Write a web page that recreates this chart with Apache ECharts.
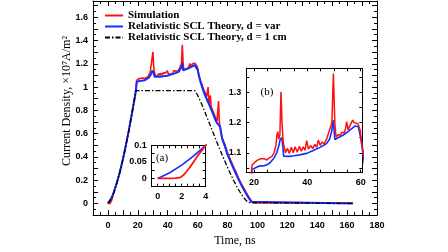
<!DOCTYPE html>
<html>
<head>
<meta charset="utf-8">
<script src="https://cdn.jsdelivr.net/npm/echarts@6/dist/echarts.min.js"></script>
<style>html,body{margin:0;padding:0;background:#fff}#c{width:448px;height:252px}</style>
</head>
<body>
<div id="c"></div>
<script>
// ---- Data ----
const seriesNames = ['Simulation', 'Relativistic SCL Theory, d = var', 'Relativistic SCL Theory, d = 1 cm'];

const simTime = [0,0.5,1,1.5,1.9,2.2,2.6,3,3.4,3.7,4,6,8,10,12,14,16,18,18.7,19.2,20,21,22.25,23,24,24.8,25.7,26.7,27.5,28.25,28.6,28.9,29.3,29.7,30.1,30.5,30.9,31.25,31.8,32.5,33.2,34,34.7,35.4,36.2,37,37.7,38.4,39.1,39.75,40.4,41.2,42,42.8,43.5,44.1,44.8,45.5,46.3,47.2,47.9,48.6,49.2,49.75,50.3,50.75,51.5,52.3,53,53.8,54.3,54.75,55.3,56,56.5,57,57.5,58.2,59,59.8,60.4,61,62,63,64,65,66,66.6,67,67.4,68,68.5,69,70,71,72,73,73.6,74,74.5,75,75.6,76.2,78,80,82,84,86,88,90,92,94,96,97.5,164];
const simDensity = [0,0,0,0.001,0.003,0.012,0.03,0.05,0.072,0.085,0.1,0.18,0.275,0.38,0.5,0.63,0.77,0.915,0.975,1.058,1.066,1.074,1.08,1.077,1.08,1.076,1.083,1.088,1.1,1.126,1.16,1.17,1.145,1.16,1.302,1.2,1.14,1.12,1.1,1.115,1.098,1.118,1.1,1.12,1.102,1.122,1.105,1.12,1.108,1.14,1.112,1.124,1.114,1.128,1.118,1.142,1.125,1.135,1.13,1.145,1.164,1.17,1.2,1.363,1.2,1.152,1.16,1.158,1.168,1.165,1.18,1.203,1.175,1.19,1.2,1.208,1.2,1.205,1.196,1.175,1.132,1.1,1.055,1.02,0.98,0.95,0.92,0.91,1.0,0.89,0.86,0.93,0.835,0.8,0.77,0.735,0.71,0.72,0.88,0.7,0.685,0.62,0.57,0.515,0.435,0.375,0.315,0.26,0.2,0.15,0.105,0.06,0.02,0.004,0.004];

const varTime = [0,1,2,3,4,6,8,10,12,14,16,18,18.7,19.3,20,21,22.25,23.5,25,26,27.5,28.5,29.2,29.75,30.4,30.8,31.1,33,35,37,39.75,42,44.75,46,47.25,48.3,49.1,49.7,50.3,51.5,53.5,55.5,57.9,59.1,60,61,62,64,66,68,70,72,73,74,75,75.8,76.5,78,80,82,84,86,88,90,92,94,96,97,164];
const varDensity = [0,0.017,0.04,0.068,0.1,0.18,0.27,0.38,0.5,0.63,0.77,0.915,0.97,1.045,1.048,1.052,1.057,1.056,1.061,1.067,1.083,1.1,1.12,1.142,1.151,1.12,1.089,1.088,1.09,1.093,1.098,1.107,1.118,1.124,1.131,1.145,1.17,1.208,1.144,1.15,1.159,1.172,1.189,1.186,1.15,1.087,1.04,0.96,0.9,0.84,0.78,0.715,0.69,0.675,0.66,0.6,0.55,0.5,0.42,0.36,0.3,0.245,0.19,0.14,0.095,0.05,0.014,0,0];

const fixedTime = [0,1,2,3,4,6,8,10,12,14,16,18,18.7,58.2,60,62,64,66,68,70,72,74,76,78,80,82,84,86,88,90,92,94,95,164];
const fixedDensity = [0,0.012,0.034,0.062,0.096,0.176,0.271,0.379,0.499,0.628,0.768,0.916,0.97,0.97,0.93,0.875,0.815,0.75,0.685,0.62,0.555,0.49,0.43,0.37,0.31,0.255,0.2,0.15,0.105,0.065,0.032,0.008,0,0];

// axis tick values
const mainXLabels = [0,20,40,60,80,100,120,140,160,180];
const mainYLabels = [0,0.2,0.4,0.6,0.8,1,1.2,1.4,1.6];
const insetALabelsX = [0,2,4];
const insetALabelsY = [0,0.05,0.1];
const insetBTicksX = [20,25,30,35,40,45,50,55,60];
const insetBLabelsX = [20,40,60];
const insetBTicksY = [1.05,1.1,1.15,1.2,1.25,1.3,1.35];
const insetBLabelsY = [1.1,1.2,1.3];

// ---- build ----
const zip = (t, v) => t.map((x, i) => [x, v[i]]);
const simData = zip(simTime, simDensity);
const varData = zip(varTime, varDensity);
const fixedData = zip(fixedTime, fixedDensity);

const RED = '#ff1010', BLUE = '#1030ff';
const labelFont = {fontFamily: 'Liberation Sans', fontWeight: 'bold', fontSize: 9, color: '#000'};
const near = (v, arr) => arr.some(a => Math.abs(a - v) < 1e-6);

function axisCommon(extra) {
  return Object.assign({
    type: 'value',
    axisLine: {show: true, onZero: false, lineStyle: {color: '#000', width: 1}},
    axisTick: {show: true, inside: true, length: 5, lineStyle: {color: '#000', width: 1}},
    splitLine: {show: false},
  }, extra);
}
const smallTick = {show: true, inside: true, length: 3, lineStyle: {color: '#000'}};

const xAxes = [
  // 0: main bottom
  axisCommon({gridIndex: 0, position: 'bottom', min: -10, max: 180, interval: 10,
    minorTick: {show: true, splitNumber: 2, length: 3, lineStyle: {color: '#000'}},
    axisLabel: Object.assign({margin: 6, formatter: v => near(v, mainXLabels) ? String(Math.round(v)) : ''}, labelFont),
    name: 'Time, ns', nameLocation: 'middle', nameGap: 16,
    nameTextStyle: {fontFamily: 'Liberation Serif', fontSize: 12, color: '#000'}}),
  // 1: main top
  axisCommon({gridIndex: 0, position: 'top', min: -10, max: 180, interval: 10,
    minorTick: {show: true, splitNumber: 2, length: 3, lineStyle: {color: '#000'}},
    axisLabel: {show: false}}),
  // 2: inset a bottom
  axisCommon({gridIndex: 1, position: 'bottom', min: -0.5, max: 4, interval: 0.5,
    axisTick: smallTick,
    axisLabel: Object.assign({margin: 5, formatter: v => near(v, insetALabelsX) ? String(Math.round(v)) : ''}, labelFont)}),
  // 3: inset a top
  axisCommon({gridIndex: 1, position: 'top', min: -0.5, max: 4, interval: 0.5,
    axisTick: smallTick, axisLabel: {show: false}}),
  // 4: inset b bottom
  axisCommon({gridIndex: 2, position: 'bottom', min: 17.1, max: 60.6,
    axisTick: Object.assign({customValues: insetBTicksX}, smallTick),
    axisLabel: Object.assign({margin: 5, customValues: insetBLabelsX}, labelFont)}),
  // 5: inset b top
  axisCommon({gridIndex: 2, position: 'top', min: 17.1, max: 60.6,
    axisTick: Object.assign({customValues: insetBTicksX}, smallTick),
    axisLabel: {show: false}}),
];

const yAxes = [
  axisCommon({gridIndex: 0, position: 'left', min: -0.1, max: 1.74, interval: 0.1,
    minorTick: {show: true, splitNumber: 2, length: 3, lineStyle: {color: '#000'}},
    axisLabel: Object.assign({margin: 5, formatter: v => near(v, mainYLabels) ? String(Math.round(v * 10) / 10) : ''}, labelFont)}),
  axisCommon({gridIndex: 0, position: 'right', min: -0.1, max: 1.74, interval: 0.1,
    minorTick: {show: true, splitNumber: 2, length: 3, lineStyle: {color: '#000'}},
    axisLabel: {show: false}}),
  axisCommon({gridIndex: 1, position: 'left', min: -0.025, max: 0.1, interval: 0.025,
    axisTick: smallTick,
    axisLabel: Object.assign({margin: 5, formatter: v => near(v, insetALabelsY) ? String(Math.round(v * 100) / 100) : ''}, labelFont)}),
  axisCommon({gridIndex: 1, position: 'right', min: -0.025, max: 0.1, interval: 0.025,
    axisTick: smallTick, axisLabel: {show: false}}),
  axisCommon({gridIndex: 2, position: 'left', min: 1.034, max: 1.38,
    axisTick: Object.assign({customValues: insetBTicksY}, smallTick),
    axisLabel: Object.assign({margin: 5, customValues: insetBLabelsY, formatter: v => v.toFixed(1)}, labelFont)}),
  axisCommon({gridIndex: 2, position: 'right', min: 1.034, max: 1.38,
    axisTick: Object.assign({customValues: insetBTicksY}, smallTick),
    axisLabel: {show: false}}),
];

function line(name, data, color, width, xi, yi, type, z) {
  return {
    type: 'line', name, data, xAxisIndex: xi, yAxisIndex: yi,
    symbol: 'none', showSymbol: false, clip: true, z: z || 2,
    lineStyle: {color, width, type: type || 'solid'}, itemStyle: {color},
    emphasis: {disabled: true}
  };
}

const chart = echarts.init(document.getElementById('c'), null, {renderer: 'canvas'});
chart.setOption({
  animation: false,
  backgroundColor: '#fff',
  grid: [
    {left: 93, top: 1, width: 284, height: 223.5, show: false},
    {left: 151.7, top: 145.3, width: 54, height: 41.4, show: true, backgroundColor: '#fff', borderWidth: 0},
    {left: 246.3, top: 68.3, width: 116, height: 104.4, show: true, backgroundColor: '#fff', borderWidth: 0},
  ],
  xAxis: xAxes,
  yAxis: yAxes,
  legend: {
    data: seriesNames, orient: 'vertical', left: 99, top: 5,
    itemWidth: 18, itemHeight: 10, itemGap: 0,
    itemStyle: {opacity: 0},
    textStyle: {fontFamily: 'Liberation Serif', fontWeight: 'bold', fontSize: 11, color: '#000'},
    selectedMode: false
  },
  graphic: [
    {type: 'text', x: 67, y: 101, rotation: Math.PI / 2,
      style: {text: 'Current Density, ×10⁷A/m²', font: '12px "Liberation Serif"', fill: '#000', align: 'center', verticalAlign: 'middle'}},
    {type: 'text', x: 162, y: 158, style: {text: '(a)', font: '11px "Liberation Serif"', fill: '#000', align: 'center', verticalAlign: 'middle'}, z: 10},
    {type: 'text', x: 267, y: 92, style: {text: '(b)', font: '11px "Liberation Serif"', fill: '#000', align: 'center', verticalAlign: 'middle'}, z: 10},
  ],
  series: [
    line(seriesNames[0], simData, RED, 1.6, 0, 0),
    line(seriesNames[1], varData, BLUE, 2, 0, 0),
    line(seriesNames[2], fixedData, '#000', 1.3, 0, 0, [5, 2, 1.5, 2]),
    line(seriesNames[1], varData, BLUE, 1.6, 2, 2, 'solid', 3),
    line(seriesNames[0], simData, RED, 1.8, 2, 2, 'solid', 3),
    line(seriesNames[1], varData, BLUE, 1.6, 4, 4, 'solid', 3),
    line(seriesNames[0], simData, RED, 1.5, 4, 4, 'solid', 3),
  ]
});
</script>
</body>
</html>
